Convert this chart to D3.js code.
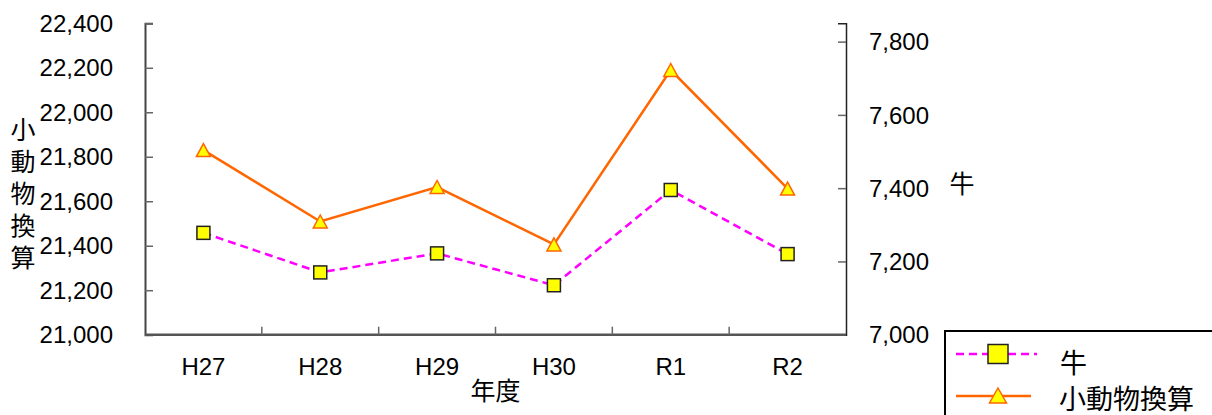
<!DOCTYPE html>
<html>
<head>
<meta charset="utf-8">
<script src="https://cdn.jsdelivr.net/npm/d3@7"></script>
<style>
  html, body { margin: 0; padding: 0; background: #fff; }
  svg text { font-family: "Liberation Sans", Arial, "Noto Sans CJK JP", sans-serif; fill: #000; }
</style>
</head>
<body>
<svg id="chart" width="1212" height="415"></svg>
<script>
// Fiscal years
const years = ["H27", "H28", "H29", "H30", "R1", "R2"];
// 牛 (right axis)
const cattle = [7278, 7170, 7222, 7135, 7395, 7220];
// 小動物換算 (left axis)
const smallAnimalEq = [21830, 21509, 21664, 21406, 22190, 21657];
// Axis ticks
const leftTicks = [21000, 21200, 21400, 21600, 21800, 22000, 22200, 22400];
const rightTicks = [7000, 7200, 7400, 7600, 7800];
const leftDomain = [21000, 22400];
const rightDomain = [7000, 7850];

const svg = d3.select("#chart");
const plot = { left: 145, right: 846, top: 23.3, bottom: 334.7 };
const fmt = d3.format(",");
const CJK = "\"Noto Sans CJK JP\", sans-serif";

const x = d3.scaleBand().domain(years).range([plot.left, plot.right]);
const yL = d3.scaleLinear().domain(leftDomain).range([plot.bottom, plot.top]);
const yR = d3.scaleLinear().domain(rightDomain).range([plot.bottom, plot.top]);

// Left axis (ticks point inward)
const gL = svg.append("g").attr("transform", `translate(${plot.left},0)`)
  .call(d3.axisRight(yL).tickValues(leftTicks).tickSize(8).tickFormat(""));
gL.select(".domain").attr("stroke", "#444").attr("stroke-width", 2);
gL.selectAll(".tick line").attr("stroke", "#666").attr("stroke-width", 1.5);
svg.append("g").selectAll("text").data(leftTicks).join("text")
  .attr("x", 113).attr("y", d => yL(d)).attr("dy", "0.36em")
  .attr("text-anchor", "end").attr("font-size", 24).text(d => fmt(d));

// Right axis (ticks point inward)
const gR = svg.append("g").attr("transform", `translate(${plot.right},0)`)
  .call(d3.axisLeft(yR).tickValues(rightTicks).tickSize(8).tickFormat(""));
gR.select(".domain").attr("stroke", "#222").attr("stroke-width", 1.5);
gR.selectAll(".tick line").attr("stroke", "#666").attr("stroke-width", 1.5);
svg.append("g").selectAll("text").data(rightTicks).join("text")
  .attr("x", 869).attr("y", d => yR(d)).attr("dy", "0.36em")
  .attr("text-anchor", "start").attr("font-size", 24).text(d => fmt(d));

// Category axis with boundary ticks
const gB = svg.append("g");
gB.append("line").attr("x1", plot.left).attr("x2", plot.right)
  .attr("y1", plot.bottom).attr("y2", plot.bottom)
  .attr("stroke", "#555").attr("stroke-width", 2.5);
gB.selectAll("line.bt").data(years.slice(1)).join("line").attr("class", "bt")
  .attr("x1", d => x(d)).attr("x2", d => x(d))
  .attr("y1", plot.bottom).attr("y2", plot.bottom - 8)
  .attr("stroke", "#666").attr("stroke-width", 1.5);
gB.selectAll("text").data(years).join("text")
  .attr("x", d => x(d) + x.bandwidth() / 2).attr("y", 375)
  .attr("text-anchor", "middle").attr("font-size", 24).text(d => d);

// Axis titles
svg.append("text").attr("x", (plot.left + plot.right) / 2).attr("y", 391)
  .attr("dy", "0.35em").attr("text-anchor", "middle")
  .attr("font-size", 25).style("font-family", CJK).text("年度");
// vertical left-axis title, one character per line
svg.append("text")
  .attr("x", 23).attr("y", 117)
  .style("writing-mode", "vertical-rl")
  .style("text-orientation", "upright")
  .style("letter-spacing", "7px")
  .attr("font-size", 25)
  .style("font-family", CJK)
  .text("小動物換算");
svg.append("text").attr("x", 962).attr("y", 184).attr("dy", "0.35em")
  .attr("text-anchor", "middle").attr("font-size", 25)
  .style("font-family", CJK).text("牛");

const cx = d => x(d) + x.bandwidth() / 2;

// 小動物換算 line + triangles
const orange = "#FF6600";
svg.append("path")
  .datum(smallAnimalEq)
  .attr("fill", "none").attr("stroke", orange).attr("stroke-width", 2.5)
  .attr("d", d3.line().x((d, i) => cx(years[i])).y(d => yL(d)));
const tri = (px, py, w, h) => `M${px},${py - h / 2}L${px + w / 2},${py + h / 2}L${px - w / 2},${py + h / 2}Z`;
svg.append("g").selectAll("path").data(smallAnimalEq).join("path")
  .attr("d", (d, i) => tri(cx(years[i]), yL(d), 14, 13))
  .attr("fill", "#FFFF00").attr("stroke", orange).attr("stroke-width", 1.5);

// 牛 line + squares
const magenta = "#FF00FF";
svg.append("path")
  .datum(cattle)
  .attr("fill", "none").attr("stroke", magenta).attr("stroke-width", 2.5)
  .attr("stroke-dasharray", "8,5")
  .attr("d", d3.line().x((d, i) => cx(years[i])).y(d => yR(d)));
svg.append("g").selectAll("rect").data(cattle).join("rect")
  .attr("x", (d, i) => cx(years[i]) - 6.5).attr("y", d => yR(d) - 6.5)
  .attr("width", 13).attr("height", 13)
  .attr("fill", "#FFFF00").attr("stroke", "#222").attr("stroke-width", 1.5);

// Legend
const lg = svg.append("g");
lg.append("rect").attr("x", 945).attr("y", 331).attr("width", 300).attr("height", 120)
  .attr("fill", "#fff").attr("stroke", "#000").attr("stroke-width", 2);
lg.append("line").attr("x1", 956).attr("x2", 1037).attr("y1", 354).attr("y2", 354)
  .attr("stroke", magenta).attr("stroke-width", 2.5).attr("stroke-dasharray", "8,5");
lg.append("rect").attr("x", 988).attr("y", 344.5).attr("width", 20).attr("height", 19)
  .attr("fill", "#FFFF00").attr("stroke", "#222").attr("stroke-width", 1.5);
lg.append("text").attr("x", 1060).attr("y", 364).attr("dy", "0.35em")
  .attr("font-size", 27).style("font-family", CJK).text("牛");
lg.append("line").attr("x1", 956).attr("x2", 1031).attr("y1", 396).attr("y2", 396)
  .attr("stroke", orange).attr("stroke-width", 2.5);
lg.append("path").attr("d", tri(998, 395.5, 17, 15))
  .attr("fill", "#FFFF00").attr("stroke", orange).attr("stroke-width", 1.5);
lg.append("text").attr("x", 1059).attr("y", 400).attr("dy", "0.35em")
  .attr("font-size", 27).style("font-family", CJK).text("小動物換算");
</script>
</body>
</html>
